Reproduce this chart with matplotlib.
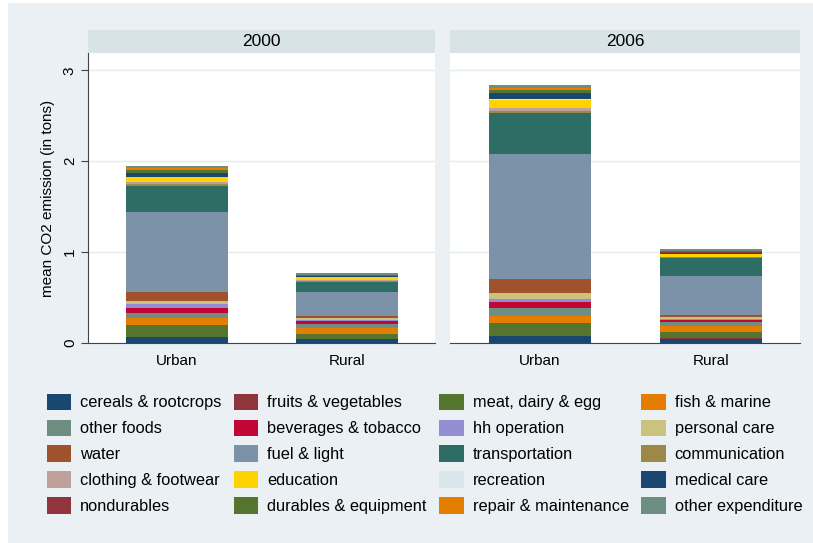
import numpy as np
import matplotlib.pyplot as plt
from matplotlib.patches import Patch, Rectangle

plt.rcParams['font.family'] = ['Liberation Sans', 'DejaVu Sans']

# categories (stack order, bottom to top) and colours
categories = ['cereals & rootcrops', 'fruits & vegetables', 'meat, dairy & egg', 'fish & marine',
              'other foods', 'beverages & tobacco', 'hh operation', 'personal care',
              'water', 'fuel & light', 'transportation', 'communication',
              'clothing & footwear', 'education', 'recreation', 'medical care',
              'nondurables', 'durables & equipment', 'repair & maintenance', 'other expenditure']
colors = ['#1a476f', '#90353b', '#55752f', '#e37e00', '#6e8e84', '#c10534', '#938dd2', '#cac27e',
          '#a0522d', '#7b92a8', '#2d6d66', '#9c8847', '#bfa19c', '#ffd200', '#d9e6eb', '#1a476f',
          '#90353b', '#55752f', '#e37e00', '#6e8e84']

years = ['2000', '2006']
areas = ['Urban', 'Rural']

# mean CO2 emission (tons) per category
urban_2000 = [0.062, 0.006, 0.130, 0.073, 0.055, 0.062, 0.036, 0.036, 0.100, 0.876,
              0.290, 0.020, 0.025, 0.055, 0.005, 0.036, 0.005, 0.030, 0.020, 0.025]
rural_2000 = [0.044, 0.005, 0.055, 0.062, 0.044, 0.036, 0.010, 0.015, 0.025, 0.270,
              0.110, 0.010, 0.010, 0.025, 0.002, 0.010, 0.003, 0.010, 0.005, 0.015]
urban_2006 = [0.073, 0.008, 0.139, 0.080, 0.080, 0.066, 0.036, 0.073, 0.153, 1.370,
              0.456, 0.020, 0.036, 0.088, 0.005, 0.062, 0.005, 0.036, 0.015, 0.036]
rural_2006 = [0.044, 0.006, 0.066, 0.066, 0.044, 0.030, 0.010, 0.025, 0.020, 0.430,
              0.190, 0.010, 0.010, 0.025, 0.003, 0.015, 0.004, 0.010, 0.008, 0.022]

data = {'2000': [urban_2000, rural_2000], '2006': [urban_2006, rural_2006]}

bg = '#eaf0f3'
strip_col = '#d8e3e8'
grid_col = '#e4ecef'

fig = plt.figure(figsize=(8.13, 5.43), dpi=100)
fig.patch.set_facecolor('white')
fig.add_artist(Rectangle((8 / 813, 0), 1, 1 - 3 / 543, transform=fig.transFigure,
                         facecolor=bg, edgecolor='none', zorder=-10))

bottom_f = (543 - 343) / 543
top_f = (543 - 53) / 543
panels = [(88, 435), (450, 800)]

for k, (yr, (x0, x1)) in enumerate(zip(years, panels)):
    ax = fig.add_axes([x0 / 813, bottom_f, (x1 - x0) / 813, top_f - bottom_f])
    ax.set_facecolor('white')
    xs = np.arange(len(areas))
    for j, vals in enumerate(data[yr]):
        base = 0.0
        for v, c in zip(vals, colors):
            ax.bar(xs[j], v, bottom=base, width=0.6, color=c, linewidth=0, zorder=3)
            base += v
    ax.set_xlim(-0.525, 1.52)
    ax.set_ylim(0, 3.19)
    ax.set_yticks([0, 1, 2, 3])
    ax.yaxis.grid(True, color=grid_col, linewidth=1, zorder=0)
    ax.set_xticks(xs)
    ax.set_xticklabels(areas, fontsize=11)
    ax.tick_params(axis='x', length=0, pad=8)
    for s in ['top', 'right']:
        ax.spines[s].set_visible(False)
    ax.spines['bottom'].set_color('#444444')
    if k == 0:
        ax.spines['left'].set_color('#444444')
        ax.set_yticklabels(['0', '1', '2', '3'], rotation=90, va='center', fontsize=11)
        ax.tick_params(axis='y', length=5, color='#444444', pad=3)
        ax.set_ylabel('mean CO2 emission (in tons)', fontsize=11, labelpad=6)
    else:
        ax.spines['left'].set_visible(False)
        ax.tick_params(axis='y', length=0, labelleft=False)

    # panel header strip
    sax = fig.add_axes([x0 / 813, top_f, (x1 - x0) / 813, 23 / 543])
    sax.set_facecolor(strip_col)
    sax.set_xticks([])
    sax.set_yticks([])
    for s in sax.spines.values():
        s.set_visible(False)
    sax.text(0.5, 0.5, yr, ha='center', va='center', fontsize=12.5, transform=sax.transAxes)

# legend filled row by row (4 columns, 5 rows)
ncol, nrow = 4, 5
order = [r * ncol + c for c in range(ncol) for r in range(nrow)]
handles = [Patch(facecolor=colors[i], edgecolor='none') for i in order]
labels = [categories[i] for i in order]
fig.legend(handles, labels, ncol=ncol, loc='upper left', bbox_to_anchor=(40 / 813, 1 - 387 / 543),
           frameon=False, fontsize=11.8, handlelength=1.5, handleheight=1.2,
           handletextpad=0.55, labelspacing=0.55, columnspacing=0.75, borderaxespad=0)

fig.savefig('out.png', dpi=100)
